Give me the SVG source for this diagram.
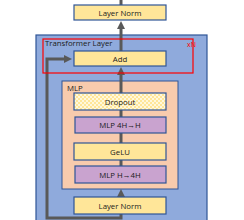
<svg xmlns="http://www.w3.org/2000/svg" width="244" height="220" viewBox="0 0 244 220">
<defs>
<style>
.box{stroke:#2F5597;stroke-width:1.2}
.y{fill:#FFE699}
.p{fill:#C9A3CF}
.t{font-family:"Open Sans","Liberation Sans",sans-serif;font-size:7.8px;fill:#1a1a1a;text-anchor:middle}
.lbl{font-family:"Open Sans","Liberation Sans",sans-serif;font-size:7.8px;fill:#1a1a1a}
.c{stroke:#595959;stroke-width:3;fill:none}
</style>
<pattern id="chk" width="4" height="4" patternUnits="userSpaceOnUse">
<rect width="4" height="4" fill="#FFF8DC"/>
<rect width="2" height="2" fill="#FFE699"/>
<rect x="2" y="2" width="2" height="2" fill="#FFE699"/>
</pattern>
<marker id="ah" markerWidth="8" markerHeight="8" refX="1" refY="4" orient="auto" markerUnits="userSpaceOnUse">
<path d="M0,0 L8,4 L0,8 z" fill="#595959"/>
</marker>
</defs>
<g id="transformer-layer">
<rect x="36" y="35" width="171" height="190" fill="#8FAADC" stroke="#2F5597" stroke-width="1.2"/>
<text class="lbl" x="45" y="45.5">Transformer Layer</text>
</g>
<g id="mlp">
<rect x="62" y="81" width="116" height="108" fill="#F8CBAD" stroke="#2F5597" stroke-width="1"/>
<text class="lbl" x="67" y="90.5">MLP</text>
</g>
<g id="connectors">
<line class="c" x1="121" y1="10" x2="121" y2="0"/>
<line class="c" x1="121" y1="51" x2="121" y2="28" marker-end="url(#ah)"/>
<line class="c" x1="121" y1="93" x2="121" y2="74" marker-end="url(#ah)"/>
<line class="c" x1="121" y1="117" x2="121" y2="110"/>
<line class="c" x1="121" y1="143" x2="121" y2="133"/>
<line class="c" x1="121" y1="166" x2="121" y2="160"/>
<line class="c" x1="121" y1="197" x2="121" y2="196" marker-end="url(#ah)"/>
<polyline class="c" points="121,214 121,218 47,218 47,59 65,59" marker-end="url(#ah)"/>
</g>
<g id="layer-norm-top">
<rect class="box y" x="74" y="5" width="92" height="15"/>
<text class="t" x="120" y="15.5">Layer Norm</text>
</g>
<g id="add">
<rect class="box y" x="74" y="51" width="92" height="15"/>
<text class="t" x="120" y="61.5">Add</text>
</g>
<g id="dropout">
<rect class="box" x="74" y="93" width="92" height="17" fill="url(#chk)"/>
<text class="t" x="120" y="104.5">Dropout</text>
</g>
<g id="mlp-4h-h">
<rect class="box p" x="75" y="117" width="91" height="16"/>
<text class="t" x="120" y="128">MLP 4H→H</text>
</g>
<g id="gelu">
<rect class="box y" x="74" y="143" width="92" height="17"/>
<text class="t" x="120" y="154.5">GeLU</text>
</g>
<g id="mlp-h-4h">
<rect class="box p" x="75" y="166" width="91" height="17"/>
<text class="t" x="120" y="177.5">MLP H→4H</text>
</g>
<g id="layer-norm-bottom">
<rect class="box y" x="74" y="197" width="92" height="17"/>
<text class="t" x="120" y="208.5">Layer Norm</text>
</g>
<g id="repeat">
<rect x="43" y="39" width="150" height="34" fill="none" stroke="#FF0000" stroke-width="1.2"/>
<text x="187" y="47" font-family="Open Sans, Liberation Sans, sans-serif" font-size="7" fill="#FF0000">xN</text>
</g>
</svg>
